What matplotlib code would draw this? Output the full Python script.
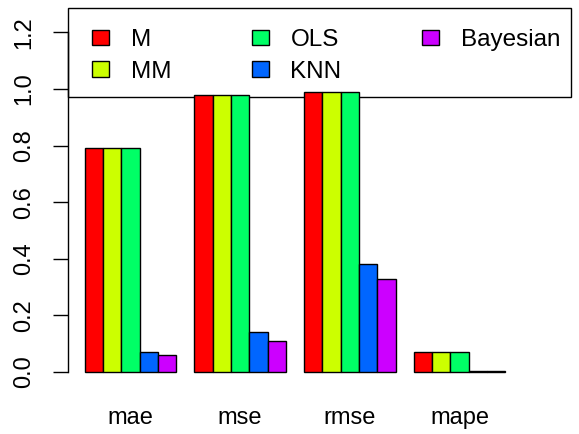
import matplotlib.pyplot as plt
import numpy as np
from matplotlib.patches import Rectangle

# Data
metrics = ['mae', 'mse', 'rmse', 'mape']
models = ['M', 'MM', 'OLS', 'KNN', 'Bayesian']
m_vals = [0.79, 0.98, 0.99, 0.07]
mm_vals = [0.79, 0.98, 0.99, 0.07]
ols_vals = [0.79, 0.98, 0.99, 0.07]
knn_vals = [0.07, 0.14, 0.38, 0.003]
bayes_vals = [0.06, 0.11, 0.33, 0.003]
colors = ['#FF0000', '#CCFF00', '#00FF66', '#0066FF', '#CC00FF']

series = [m_vals, mm_vals, ols_vals, knn_vals, bayes_vals]

W, H = 579, 434
plt.rcParams['font.family'] = ['Liberation Sans', 'DejaVu Sans']
fig = plt.figure(figsize=(W / 100, H / 100), dpi=100)

# plot region in pixels (R style barplot)
left, right, top, bottom = 68, 522, 8, 385
ax = fig.add_axes([left / W, 1 - bottom / H, (right - left) / W, (bottom - top) / H])

# R barplot(beside=TRUE) positions: groups of 5 bars, one-bar gap
n = len(models)
handles = []
for i, (vals, col) in enumerate(zip(series, colors)):
    x = np.arange(len(metrics)) * (n + 1) + 1 + i
    b = ax.bar(x, vals, width=1.0, align='edge', color=col,
               edgecolor='black', linewidth=1.0, label=models[i], zorder=2)
    handles.append(b)

ax.set_xlim(0.08, 24.92)
px_per_unit = (372 - 89) / 1.0
ax.set_ylim(-(bottom - 372) / px_per_unit, (372 - top) / px_per_unit)

for s in ['top', 'right', 'bottom']:
    ax.spines[s].set_visible(False)
ax.spines['left'].set_bounds(0, 1.2)
ax.spines['left'].set_linewidth(1.0)

ax.set_yticks(np.arange(0, 1.21, 0.2))
ax.set_yticklabels([f'{v:.1f}' for v in np.arange(0, 1.21, 0.2)],
                   rotation=90, va='center', fontsize=17)
ax.tick_params(axis='y', length=10.8, width=1.0, pad=13)

centers = np.arange(len(metrics)) * (n + 1) + 1 + n / 2
ax.set_xticks(centers)
ax.set_xticklabels(metrics, fontsize=17)
ax.tick_params(axis='x', length=0, pad=16)

# legend box (drawn under the bars, like the original)
box = Rectangle((68 / W, 1 - 97 / H), 503 / W, 89 / H, transform=fig.transFigure,
                fill=False, edgecolor='black', linewidth=1.0, clip_on=False, zorder=1)
ax.add_patch(box)

leg = ax.legend(handles=handles, ncol=3, loc='upper left',
                bbox_to_anchor=(92 / W, 1 - 29 / H),
                bbox_transform=fig.transFigure,
                borderaxespad=0, fontsize=17.5, frameon=False,
                handlelength=0.7, handleheight=0.6,
                handletextpad=0.9, labelspacing=0.4, borderpad=0,
                columnspacing=3.3)
leg.set_clip_on(False)
leg.set_zorder(1)

fig.savefig('out.png', dpi=100)
